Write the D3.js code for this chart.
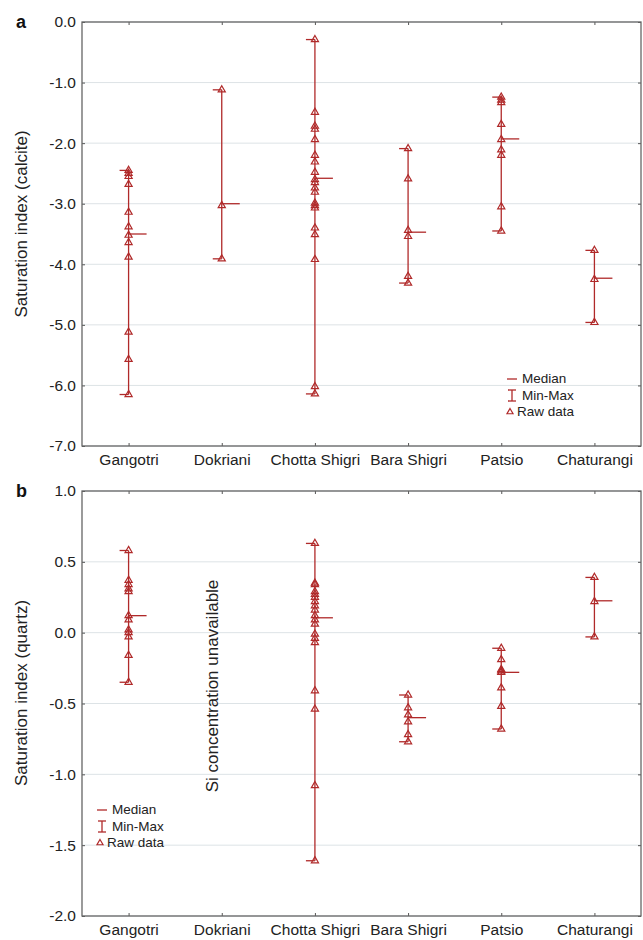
<!DOCTYPE html>
<html>
<head>
<meta charset="utf-8">
<script src="https://cdn.jsdelivr.net/npm/d3@7"></script>
<style>
  body { margin: 0; background: #fff; }
  svg { font-family: "Liberation Sans", Arial, sans-serif; }
</style>
</head>
<body>
<script>
// glaciers on the x axis
const glaciers = ['Gangotri', 'Dokriani', 'Chotta Shigri', 'Bara Shigri', 'Patsio', 'Chaturangi'];

// panel a - saturation index (calcite)
const gangotriCalcite = [-2.45, -2.50, -2.55, -2.68, -3.14, -3.38, -3.52, -3.64, -3.88, -5.12, -5.57, -6.15];
const dokrianiCalcite = [-1.12, -3.03, -3.91];
const chottaCalcite = [-0.29, -1.49, -1.72, -1.77, -1.94, -2.20, -2.31, -2.48, -2.60, -2.65, -2.74, -2.81,
  -2.99, -3.03, -3.07, -3.40, -3.51, -3.92, -6.02, -6.14];
const baraCalcite = [-2.09, -2.59, -3.44, -3.54, -4.20, -4.31];
const patsioCalcite = [-1.24, -1.29, -1.33, -1.69, -1.94, -2.11, -2.20, -3.05, -3.45];
const chaturangiCalcite = [-3.77, -4.25, -4.96];
const calciteMedians = [-3.50, -3.00, -2.58, -3.47, -1.93, -4.23];
const calciteTicks = [0, -1, -2, -3, -4, -5, -6, -7];

// panel b - saturation index (quartz), no Si data for Dokriani
const gangotriQuartz = [0.58, 0.37, 0.34, 0.31, 0.29, 0.12, 0.09, 0.02, 0.00, -0.03, -0.16, -0.35];
const dokrianiQuartz = [];
const chottaQuartz = [0.63, 0.35, 0.34, 0.29, 0.27, 0.25, 0.22, 0.19, 0.16, 0.12, 0.09, 0.06,
  -0.01, -0.04, -0.07, -0.41, -0.54, -1.08, -1.61];
const baraQuartz = [-0.44, -0.53, -0.58, -0.63, -0.72, -0.77];
const patsioQuartz = [-0.11, -0.19, -0.26, -0.27, -0.28, -0.39, -0.52, -0.68];
const chaturangiQuartz = [0.39, 0.22, -0.03];
const quartzMedians = [0.12, null, 0.105, -0.60, -0.28, 0.225];
const quartzTicks = [1.0, 0.5, 0.0, -0.5, -1.0, -1.5, -2.0];

const red = '#b02a2a';
const width = 643, height = 940;
const left = 82, right = 641;

const svg = d3.select('body').append('svg')
  .attr('width', width)
  .attr('height', height);

const x = d3.scalePoint()
  .domain(glaciers)
  .range([left, right])
  .padding(0.5);

const tri = d3.symbol().type(d3.symbolTriangle).size(22);

function drawPanel(p) {
  const y = d3.scaleLinear().domain(p.domain).range([p.bottom, p.top]);
  const g = svg.append('g');

  // gridlines
  g.selectAll('.grid')
    .data(p.ticks)
    .enter().append('line')
    .attr('x1', left).attr('x2', right)
    .attr('y1', d => y(d)).attr('y2', d => y(d))
    .attr('stroke', '#dde3e6')
    .attr('stroke-width', 1);

  // axes
  const yAxis = g.append('g')
    .attr('transform', `translate(${left},0)`)
    .call(d3.axisLeft(y).tickValues(p.ticks).tickSize(-3).tickPadding(6)
      .tickFormat(d => d.toFixed(1)));
  g.append('g')
    .attr('transform', `translate(${right},0)`)
    .call(d3.axisRight(y).tickValues(p.ticks).tickSize(-3).tickFormat(''));
  g.append('g')
    .attr('transform', `translate(0,${p.top})`)
    .call(d3.axisTop(x).tickSize(-3).tickFormat(''));
  const xAxis = g.append('g')
    .attr('transform', `translate(0,${p.bottom})`)
    .call(d3.axisBottom(x).tickSize(-3).tickPadding(8));

  g.selectAll('.domain').remove();
  g.selectAll('.tick line').attr('stroke', '#555');
  yAxis.selectAll('text').attr('font-size', 15.5).attr('fill', '#222')
    .attr('font-family', '"Liberation Sans", Arial, sans-serif');
  xAxis.selectAll('text').attr('font-size', 15.5).attr('fill', '#222')
    .attr('font-family', '"Liberation Sans", Arial, sans-serif');

  // frame
  g.append('rect')
    .attr('x', left).attr('y', p.top)
    .attr('width', right - left).attr('height', p.bottom - p.top)
    .attr('fill', 'none')
    .attr('stroke', '#666')
    .attr('stroke-width', 1.3);

  // per glacier: min-max line, caps, median, raw points
  glaciers.forEach((name, i) => {
    const vals = p.series[i];
    if (!vals.length) return;
    const cx = x(name);
    const lo = d3.min(vals), hi = d3.max(vals);
    const s = g.append('g');
    s.append('line')
      .attr('x1', cx).attr('x2', cx)
      .attr('y1', y(hi)).attr('y2', y(lo))
      .attr('stroke', red).attr('stroke-width', 1.3);
    s.selectAll('.cap')
      .data([lo, hi])
      .enter().append('line')
      .attr('x1', cx - 9).attr('x2', cx)
      .attr('y1', d => y(d)).attr('y2', d => y(d))
      .attr('stroke', red).attr('stroke-width', 1.3);
    s.append('line')
      .attr('x1', cx).attr('x2', cx + 18)
      .attr('y1', y(p.medians[i])).attr('y2', y(p.medians[i]))
      .attr('stroke', red).attr('stroke-width', 1.3);
    s.selectAll('path')
      .data(vals)
      .enter().append('path')
      .attr('d', tri)
      .attr('transform', d => `translate(${cx},${y(d)})`)
      .attr('fill', 'none')
      .attr('stroke', red)
      .attr('stroke-width', 1.2);
  });

  // axis title
  g.append('text')
    .attr('transform', `translate(27,${p.titleY}) rotate(-90)`)
    .attr('text-anchor', 'middle')
    .attr('font-size', 17)
    .attr('fill', '#222')
    .text(p.title);

  // panel letter
  g.append('text')
    .attr('x', 16).attr('y', p.top + 6)
    .attr('font-size', 18)
    .attr('font-weight', 'bold')
    .attr('fill', '#111')
    .text(p.letter);

  // legend
  const lg = g.append('g').attr('transform', `translate(${p.legend[0]},${p.legend[1]})`);
  lg.append('line').attr('x1', -5).attr('x2', 5).attr('y1', 0).attr('y2', 0)
    .attr('stroke', red).attr('stroke-width', 1.3);
  lg.append('line').attr('x1', 0).attr('x2', 0).attr('y1', 11).attr('y2', 22)
    .attr('stroke', red).attr('stroke-width', 1.3);
  lg.selectAll('.lcap').data([11, 22]).enter().append('line')
    .attr('x1', -4).attr('x2', 4).attr('y1', d => d).attr('y2', d => d)
    .attr('stroke', red).attr('stroke-width', 1.3);
  lg.append('path').attr('d', d3.symbol().type(d3.symbolTriangle).size(16))
    .attr('transform', 'translate(-2,33)')
    .attr('fill', 'none').attr('stroke', red).attr('stroke-width', 1.2);
  const items = [['Median', 10, 4], ['Min-Max', 10, 21], ['Raw data', 5, 37]];
  lg.selectAll('.ltxt').data(items).enter().append('text')
    .attr('x', d => d[1]).attr('y', d => d[2])
    .attr('font-size', 13.5)
    .attr('fill', '#222')
    .text(d => d[0]);

  return y;
}

drawPanel({
  top: 22, bottom: 446, domain: [-7, 0], ticks: calciteTicks,
  series: [gangotriCalcite, dokrianiCalcite, chottaCalcite, baraCalcite, patsioCalcite, chaturangiCalcite],
  medians: calciteMedians,
  title: 'Saturation index (calcite)', titleY: 224, letter: 'a',
  legend: [512, 379]
});

drawPanel({
  top: 491, bottom: 916, domain: [-2, 1], ticks: quartzTicks,
  series: [gangotriQuartz, dokrianiQuartz, chottaQuartz, baraQuartz, patsioQuartz, chaturangiQuartz],
  medians: quartzMedians,
  title: 'Saturation index (quartz)', titleY: 693, letter: 'b',
  legend: [102, 810]
});

// note in place of the missing Dokriani quartz values
svg.append('text')
  .attr('transform', `translate(218,${(577 + 795) / 2}) rotate(-90)`)
  .attr('text-anchor', 'middle')
  .attr('font-size', 17)
  .attr('fill', '#222')
  .text('Si concentration unavailable');
</script>
</body>
</html>
